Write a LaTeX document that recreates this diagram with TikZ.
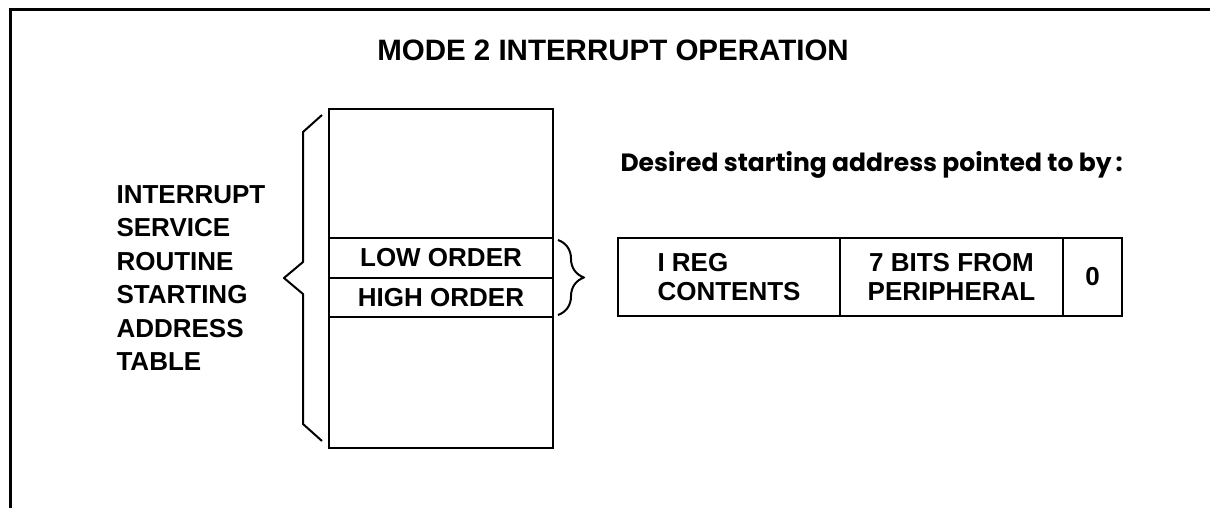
\documentclass[tikz,border=0pt]{standalone}
\usepackage{fontspec}
\setmainfont{Liberation Sans}
\newfontfamily\roundfont{Poppins}
\usetikzlibrary{positioning,decorations.pathreplacing}

\begin{document}
\begin{tikzpicture}[
x=1pt, y=-1pt,
line width=2.4pt,
cell/.style={
draw,
minimum width=224pt,
inner sep=0pt,
outer sep=0pt,
font=\fontsize{26}{30}\selectfont\bfseries
},
field/.style={
draw,
minimum height=78pt,
inner sep=0pt,
outer sep=0pt,
font=\fontsize{26}{29}\selectfont\bfseries
},
bracket/.style={
line width=2pt,
line join=round
}
]

\useasboundingbox (0,0) rectangle (1210,508);

\draw[line width=3pt] (10,508) -- (10,10) -- (1210,10);

\node[font=\fontsize{29.5}{34}\selectfont\bfseries] (title) at (613,50)
{MODE 2 INTERRUPT OPERATION};

\node[cell, minimum height=129pt] (upper) at (441,173.5) {};

\node[cell, minimum height=40pt, below=0pt of upper] (low) {LOW ORDER};

\node[cell, minimum height=39pt, below=0pt of low] (high) {HIGH ORDER};

\node[cell, minimum height=131pt, below=0pt of high] (lower) {};

\node[anchor=west, align=left, font=\fontsize{26}{33.5}\selectfont\bfseries]
(table) at (112,278)
{INTERRUPT\\SERVICE\\ROUTINE\\STARTING\\ADDRESS\\TABLE};

\draw[bracket] (322,115) -- (303,132) -- (303,262) -- (284,278)
-- (303,294) -- (303,424) -- (322,441);

\draw[bracket, decorate, decoration={brace, amplitude=26pt}]
([xshift=5pt,yshift=-2pt]low.north east) -- ([xshift=5pt,yshift=2pt]high.south east);

\node[anchor=west, font=\roundfont\fontsize{25}{29}\selectfont\bfseries]
(pointer) at (616,165)
{Desired starting address pointed to by\,:};

\node[field, minimum width=222pt, align=left] (ireg) at (729,277)
{I REG\\CONTENTS};

\node[field, minimum width=223pt, align=center, right=0pt of ireg] (bits)
{7 BITS FROM\\PERIPHERAL};

\node[field, minimum width=59pt, right=0pt of bits] (zero) {0};

\end{tikzpicture}
\end{document}
